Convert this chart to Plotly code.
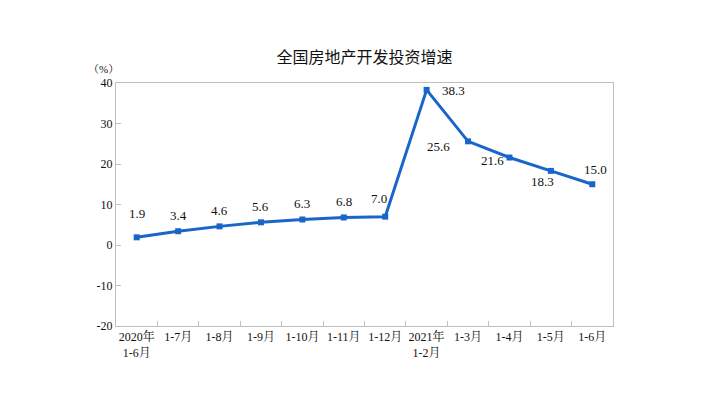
import plotly.graph_objects as go

categories = ["2020年<br>1-6月", "1-7月", "1-8月", "1-9月", "1-10月", "1-11月", "1-12月",
              "2021年<br>1-2月", "1-3月", "1-4月", "1-5月", "1-6月"]
values = [1.9, 3.4, 4.6, 5.6, 6.3, 6.8, 7.0, 38.3, 25.6, 21.6, 18.3, 15.0]
ytick_vals = [-20, -10, 0, 10, 20, 30, 40]
ytick_text = ["-20", "-10", "0", "10", "20", "30", "40"]
# label offsets (px) relative to point
label_dx = [0, 0, 0, 0, 0, 0, -6, 27, -30, -17, -8, 3]
label_dy = [24, 16, 16, 16, 16, 16, 18, -1, -5, -3, -11, 15]

W, H = 722, 393
OFF = 8  # browser body margin compensation
L, R, T, B = 116 - OFF, 613 - OFF, 83 - OFF, 326 - OFF
font = "Liberation Serif, Noto Serif CJK SC, Noto Sans CJK SC, serif"
color = "#1a66c8"
axcol = "#bfbfbf"

fig = go.Figure()
fig.add_trace(go.Scatter(
    x=list(range(len(categories))), y=values, mode="lines+markers",
    line=dict(color=color, width=3),
    marker=dict(symbol="square", size=6, color=color),
    hoverinfo="skip", showlegend=False))

for i, v in enumerate(values):
    fig.add_annotation(x=i, y=v, text=f"{v:.1f}", showarrow=False,
                       xshift=label_dx[i], yshift=label_dy[i],
                       font=dict(family=font, size=13, color="#111"))

fig.add_annotation(xref="paper", yref="paper", x=0, y=1.0, xanchor="center",
                   yanchor="middle", xshift=-13, yshift=14,
                   text="（%）", showarrow=False,
                   font=dict(family=font, size=11, color="#111"))

fig.update_layout(
    width=W, height=H,
    margin=dict(l=L, r=W - R, t=T, b=H - B, pad=0),
    paper_bgcolor="white", plot_bgcolor="white",
    title=dict(text="全国房地产开发投资增速", x=(L + R) / 2 / W, xanchor="center",
               y=1 - (57 - OFF) / H, yanchor="middle",
               font=dict(family="Noto Sans CJK SC", size=16, color="#111")),
    xaxis=dict(tickmode="array", tickvals=list(range(len(categories))),
               ticktext=categories, range=[-0.5, len(categories) - 0.5],
               showline=True, linecolor=axcol, linewidth=1, mirror=True,
               ticks="", showgrid=False, zeroline=False,
               tickfont=dict(family=font, size=12, color="#111")),
    yaxis=dict(range=[-20, 40], tickmode="array", tickvals=ytick_vals,
               ticktext=ytick_text, showline=True, linecolor=axcol,
               linewidth=1, mirror=True, ticks="inside", ticklen=5,
               tickcolor=axcol, showgrid=False, zeroline=False,
               tickfont=dict(family=font, size=12, color="#111")),
)

# category boundary ticks on x axis (drawn via secondary tick axis)
fig.update_layout(xaxis2=dict(overlaying="x", range=[-0.5, len(categories) - 0.5],
                              tickmode="array",
                              tickvals=[i + 0.5 for i in range(len(categories) - 1)],
                              ticktext=[""] * (len(categories) - 1),
                              ticks="inside", ticklen=5, tickcolor=axcol,
                              showline=False, showgrid=False, zeroline=False,
                              side="bottom", anchor="y"))
fig.add_trace(go.Scatter(x=[None], y=[None], xaxis="x2", showlegend=False, hoverinfo="skip"))

fig.write_html("out.html")
